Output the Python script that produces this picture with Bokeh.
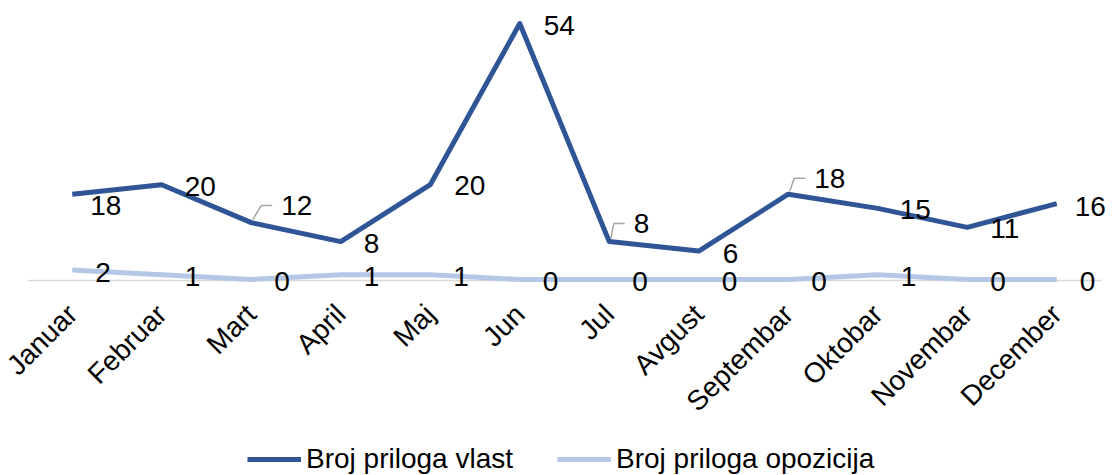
import math
from bokeh.plotting import figure
from bokeh.layouts import column
from bokeh.models import (Range1d, FixedTicker, ColumnDataSource, LabelSet,
                          Legend, LegendItem)
from bokeh.core.properties import value
from bokeh.embed import file_html
from bokeh.resources import INLINE

# ---- data ----
months = ["Januar", "Februar", "Mart", "April", "Maj", "Jun", "Jul",
          "Avgust", "Septembar", "Oktobar", "Novembar", "December"]
vlast = [18, 20, 12, 8, 20, 54, 8, 6, 18, 15, 11, 16]
opozicija = [2, 1, 0, 1, 1, 0, 0, 0, 0, 1, 0, 0]
series_names = ["Broj priloga vlast", "Broj priloga opozicija"]

# ---- label nudges (screen px) ----
vlast_dx = [18, 23, 30, 23, 24, 24, 24.5, 24, 26, 22, 23, 18]
vlast_dy = [11, 2, -17, 2, 1, 2, -18, 2, -16, 1.5, 1.5, 3]   # down positive
opoz_dx = 23
opoz_dy = 2
leader_idx = [2, 6, 8]

FONT = "Liberation Sans"
FS = "28px"
DARK = "#2F5597"
LIGHT = "#B4C7E7"
PXX = 89.5    # px per category
PXY = 4.74    # px per unit
W = 1110
LEFT = 27

x = list(range(len(months)))
n = len(months)

p = figure(width=W, height=438,
           x_range=Range1d(-0.5, -0.5 + (W - LEFT) / PXX),
           y_range=Range1d(-15 / PXY, 279 / PXY),
           output_backend="svg", toolbar_location=None,
           y_axis_location=None,
           min_border_left=LEFT, min_border_right=0,
           min_border_top=0, min_border_bottom=144,
           outline_line_color=None)
p.title.visible = False
p.xgrid.visible = False
p.ygrid.visible = False

ax = p.xaxis[0]
ax.ticker = FixedTicker(ticks=x)
ax.major_label_overrides = {i: m for i, m in enumerate(months)}
ax.major_label_orientation = math.pi / 4
ax.major_label_text_font = FONT
ax.major_label_text_font_size = FS
ax.major_label_text_color = "#000000"
ax.major_label_standoff = 9
ax.axis_line_color = None
ax.major_tick_line_color = None
ax.minor_tick_line_color = None

# category axis baseline
p.segment(x0=[-0.5], x1=[n - 0.5], y0=[-0.2], y1=[-0.2],
          line_color="#D9D9D9", line_width=1.5, level="underlay")

src = ColumnDataSource(dict(
    x=x, vlast=vlast, opozicija=opozicija,
    vl_txt=[str(v) for v in vlast], op_txt=[str(v) for v in opozicija],
    vdx=vlast_dx, vdy=[-d for d in vlast_dy],
))

r2 = p.line("x", "opozicija", source=src, line_color=LIGHT, line_width=5,
            line_join="round")
r1 = p.line("x", "vlast", source=src, line_color=DARK, line_width=5,
            line_join="round")

# leader lines
xs, ys = [], []
for i in leader_idx:
    v = vlast[i]
    dx = vlast_dx[i]
    dy = -vlast_dy[i]
    xs.append([i + 1.5 / PXX, i + (dx - 20) / PXX, i + (dx - 9) / PXX])
    ys.append([v + 3 / PXY, v + dy / PXY, v + dy / PXY])
p.multi_line(xs, ys, line_color="#A6A6A6", line_width=1.5)

p.add_layout(LabelSet(x="x", y="vlast", text="vl_txt", source=src,
                      x_offset="vdx", y_offset="vdy",
                      text_align="left", text_baseline="middle",
                      text_font=value(FONT), text_font_size=FS,
                      text_color="#000000"))
p.add_layout(LabelSet(x="x", y="opozicija", text="op_txt", source=src,
                      x_offset=opoz_dx, y_offset=-opoz_dy,
                      text_align="left", text_baseline="middle",
                      text_font=value(FONT), text_font_size=FS,
                      text_color="#000000"))

# ---- legend strip ----
pl = figure(width=W, height=37, output_backend="svg", toolbar_location=None,
            x_axis_location=None, y_axis_location=None,
            min_border=0, outline_line_color=None,
            x_range=Range1d(0, 1), y_range=Range1d(0, 1))
pl.title.visible = False
pl.xgrid.visible = False
pl.ygrid.visible = False
# legend-only renderers (kept outside the visible range)
l1 = pl.line([-2, -1], [-2, -2], line_color=DARK, line_width=5)
l2 = pl.line([-2, -1], [-2, -2], line_color=LIGHT, line_width=5)
legend = Legend(items=[LegendItem(label=series_names[0], renderers=[l1]),
                       LegendItem(label=series_names[1], renderers=[l2])],
                location=(220, 0), orientation="horizontal",
                glyph_width=54, glyph_height=20, label_standoff=5, spacing=44,
                padding=0, margin=0, border_line_color=None,
                background_fill_alpha=0,
                label_text_font=FONT, label_text_font_size=FS,
                label_text_color="#000000")
pl.add_layout(legend)

layout = column(p, pl, spacing=0)
open("out.html", "w").write(file_html(layout, INLINE))
